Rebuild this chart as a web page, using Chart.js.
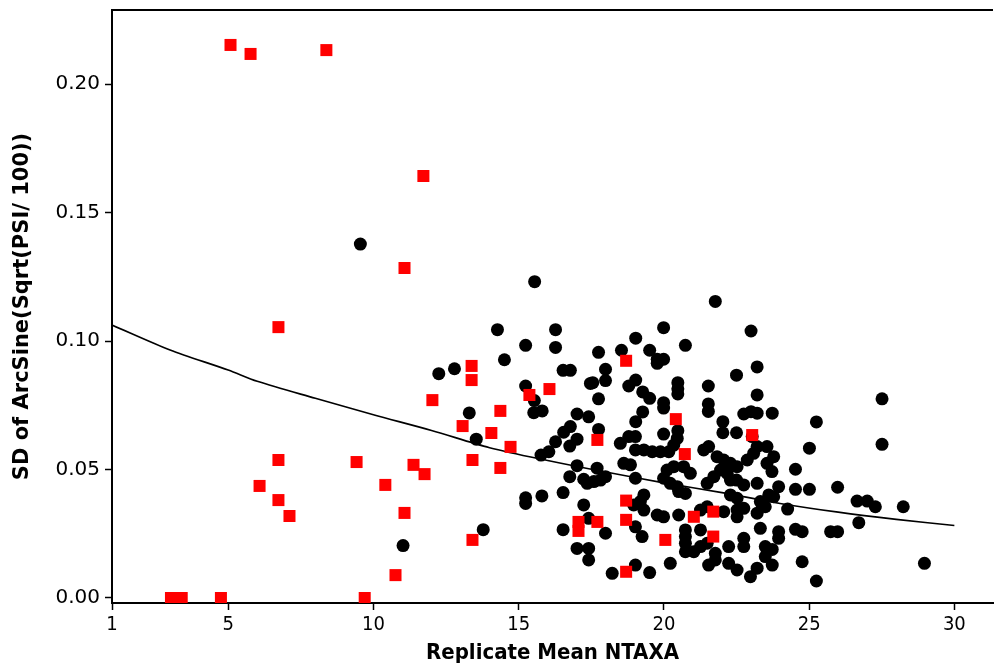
<!DOCTYPE html>
<html>
<head>
<meta charset="utf-8">
<script src="https://cdn.jsdelivr.net/npm/chart.js@4.4.1/dist/chart.umd.min.js"></script>
<style>
  html, body { margin: 0; padding: 0; background: #fff; overflow: hidden; }
  #wrap { width: 995px; height: 666px; }
  canvas { display: block; }
</style>
</head>
<body>
<div id="wrap"><canvas id="chart" width="995" height="666"></canvas></div>
<script>
// axis ticks
const xTicks = [1, 5, 10, 15, 20, 25, 30];
const yTicks = [0, 0.05, 0.10, 0.15, 0.20];

// black circles: [replicate mean NTAXA, SD]
const blackPts = [
    [9.55,0.1377],[11.02,0.0204],[15.55,0.1231],[14.27,0.1044],[16.27,0.1044],[15.24,0.0983],[16.27,0.0975],
    [14.51,0.0927],[12.25,0.0873],[12.79,0.0892],[16.53,0.0886],[16.78,0.0886],[17.47,0.0835],[15.24,0.0825],
    [15.54,0.0768],[15.52,0.0721],[15.81,0.0728],[13.30,0.0720],[17.01,0.0716],[17.41,0.0705],[16.78,0.0667],
    [16.55,0.0645],[13.54,0.0618],[17.01,0.0618],[16.27,0.0608],[16.76,0.0591],[16.04,0.0569],[15.77,0.0556],
    [17.01,0.0515],[16.76,0.0472],[17.24,0.0462],[17.36,0.0446],[16.53,0.0410],[15.80,0.0397],[15.24,0.0390],
    [15.24,0.0368],[17.24,0.0362],[17.41,0.0310],[13.78,0.0266],[16.53,0.0266],[17.01,0.0193],[17.41,0.0193],
    [17.41,0.0148],[21.77,0.1154],[19.99,0.1052],[23.00,0.1039],[19.03,0.1011],[20.74,0.0983],[17.75,0.0956],
    [18.54,0.0964],[19.51,0.0964],[19.77,0.0929],[19.99,0.0929],[19.77,0.0913],[23.21,0.0899],[17.99,0.0890],
    [17.99,0.0846],[22.50,0.0867],[17.55,0.0838],[19.03,0.0848],[18.79,0.0825],[20.48,0.0838],[20.48,0.0814],
    [20.48,0.0794],[21.53,0.0825],[19.27,0.0802],[19.51,0.0777],[17.75,0.0775],[23.21,0.0790],[19.99,0.0760],
    [19.99,0.0739],[21.53,0.0755],[21.53,0.0726],[19.27,0.0724],[19.03,0.0686],[22.75,0.0716],[23.00,0.0725],
    [23.21,0.0719],[22.03,0.0686],[17.75,0.0656],[19.99,0.0638],[20.48,0.0651],[22.03,0.0643],[22.50,0.0643],
    [23.73,0.0719],[25.25,0.0685],[27.51,0.0775],[18.50,0.0602],[18.79,0.0628],[19.02,0.0628],[19.02,0.0576],
    [19.31,0.0576],[19.60,0.0569],[19.88,0.0569],[20.17,0.0569],[20.34,0.0595],[20.46,0.0621],[21.37,0.0576],
    [21.54,0.0589],[21.83,0.0550],[22.06,0.0537],[22.29,0.0524],[22.52,0.0511],[22.87,0.0537],[23.09,0.0563],
    [23.21,0.0589],[23.04,0.0628],[18.62,0.0524],[18.85,0.0518],[17.70,0.0505],[17.99,0.0472],[17.82,0.0459],
    [17.59,0.0453],[19.02,0.0466],[19.99,0.0466],[20.22,0.0446],[20.46,0.0433],[20.51,0.0414],[20.74,0.0407],
    [20.11,0.0498],[20.34,0.0511],[20.68,0.0511],[20.91,0.0485],[21.49,0.0446],[21.72,0.0472],[21.95,0.0498],
    [22.18,0.0485],[22.29,0.0459],[23.21,0.0446],[22.29,0.0401],[22.52,0.0388],[19.31,0.0401],[19.19,0.0375],
    [18.96,0.0362],[19.31,0.0342],[19.77,0.0323],[19.99,0.0316],[20.51,0.0323],[21.26,0.0342],[21.49,0.0355],
    [22.06,0.0336],[22.52,0.0342],[22.75,0.0349],[22.52,0.0316],[23.21,0.0330],[19.02,0.0277],[17.99,0.0252],
    [19.25,0.0239],[20.74,0.0265],[20.74,0.0239],[20.74,0.0213],[20.74,0.0180],[21.03,0.0180],[21.26,0.0200],
    [21.49,0.0213],[21.26,0.0265],[21.77,0.0174],[21.77,0.0148],[21.54,0.0128],[22.23,0.0200],[22.75,0.0232],
    [22.75,0.0200],[22.23,0.0135],[22.52,0.0109],[23.21,0.0116],[22.98,0.0083],[18.22,0.0096],[19.02,0.0128],
    [19.51,0.0099],[20.22,0.0135],[23.55,0.0589],[23.78,0.0550],[23.55,0.0524],[23.72,0.0492],[23.95,0.0433],
    [23.61,0.0401],[23.78,0.0394],[23.32,0.0375],[23.49,0.0355],[23.32,0.0271],[23.95,0.0258],[23.95,0.0232],
    [23.49,0.0200],[23.73,0.0189],[23.49,0.0161],[23.73,0.0128],[25.01,0.0583],[27.51,0.0598],[24.53,0.0501],
    [24.53,0.0423],[25.01,0.0423],[25.98,0.0431],[24.26,0.0346],[26.65,0.0377],[27.00,0.0377],[27.28,0.0355],
    [28.24,0.0355],[24.53,0.0267],[24.76,0.0258],[25.74,0.0258],[25.98,0.0258],[26.71,0.0293],[24.76,0.0141],
    [25.25,0.0066],[28.97,0.0135],[22.75,0.0440],[22.50,0.0459]
];

// red squares
const redPts = [
    [5.08,0.2152],[5.77,0.2117],[8.38,0.2132],[11.72,0.1642],[11.07,0.1284],[6.73,0.1054],[12.03,0.0770],
    [13.38,0.0903],[13.38,0.0848],[13.07,0.0669],[14.06,0.0642],[14.37,0.0728],[15.37,0.0790],[16.06,0.0813],
    [14.72,0.0588],[13.41,0.0537],[14.37,0.0506],[9.42,0.0529],[6.73,0.0537],[6.08,0.0436],[6.73,0.0381],
    [7.11,0.0319],[10.41,0.0440],[11.38,0.0518],[11.76,0.0482],[11.07,0.0331],[13.41,0.0226],[10.76,0.0089],
    [3.03,0.0],[3.40,0.0],[4.75,0.0],[9.70,0.0],[17.06,0.0296],[17.06,0.0261],[17.71,0.0615],[17.71,0.0296],
    [18.70,0.0923],[18.70,0.0379],[18.70,0.0304],[18.70,0.0102],[20.05,0.0226],[20.41,0.0696],[20.72,0.0560],
    [21.03,0.0316],[21.70,0.0239],[21.70,0.0336],[23.04,0.0634]
];

// fitted curve
const fitX = [1, 3, 5, 6, 8, 10, 12, 14, 16, 18, 20, 22, 24, 26, 28, 30];
const fitY = [0.1062, 0.0965, 0.0887, 0.0843, 0.0777, 0.0713, 0.0652, 0.0585, 0.0535, 0.0490, 0.0448, 0.0410, 0.0368, 0.0334, 0.0306, 0.0282];

const toXY = arr => arr.map(p => ({ x: p[0], y: p[1] }));

// top frame line (no right border in the original)
const topFrame = {
    id: 'topFrame',
    afterDraw(chart) {
        const { ctx, chartArea } = chart;
        ctx.save();
        ctx.strokeStyle = '#000';
        ctx.lineWidth = 2;
        ctx.beginPath();
        ctx.moveTo(chartArea.left - 1, chartArea.top);
        ctx.lineTo(chartArea.right, chartArea.top);
        ctx.stroke();
        ctx.restore();
    }
};

const ctx = document.getElementById('chart').getContext('2d');
new Chart(ctx, {
    type: 'scatter',
    data: {
        datasets: [
            {
                label: 'red',
                data: toXY(redPts),
                pointStyle: 'rect',
                pointRadius: 8.5,
                pointHoverRadius: 8.5,
                backgroundColor: '#ff0000',
                borderWidth: 0,
                order: 0,
            },
            {
                label: 'fit',
                type: 'line',
                data: fitX.map((x, i) => ({ x, y: fitY[i] })),
                borderColor: '#000',
                borderWidth: 1.6,
                pointRadius: 0,
                tension: 0.3,
                fill: false,
                order: 1,
            },
            {
                label: 'black',
                data: toXY(blackPts),
                pointStyle: 'circle',
                pointRadius: 6.5,
                pointHoverRadius: 6.5,
                backgroundColor: '#000',
                borderWidth: 0,
                order: 2,
            },
        ],
    },
    options: {
        responsive: false,
        animation: false,
        events: [],
        layout: { autoPadding: false, padding: { top: 10, right: 2, bottom: 0, left: 0 } },
        plugins: { legend: { display: false }, tooltip: { enabled: false } },
        scales: {
            x: {
                type: 'linear',
                min: 1,
                max: 31.33,
                afterBuildTicks: s => { s.ticks = xTicks.map(v => ({ value: v })); },
                afterFit: s => { s.height = 63; s.paddingLeft = 0; s.paddingRight = 0; s.paddingTop = 0; s.paddingBottom = 0; },
                ticks: {
                    color: '#000',
                    padding: 3,
                    autoSkip: false,
                    maxRotation: 0,
                    font: { family: '"DejaVu Sans Condensed", "DejaVu Sans", sans-serif', size: 20 },
                },
                grid: { drawOnChartArea: false, drawTicks: true, tickLength: 7, tickColor: '#000', tickWidth: 1.5 },
                border: { display: true, color: '#000', width: 2 },
                title: {
                    display: true,
                    text: 'Replicate Mean NTAXA',
                    color: '#000',
                    padding: { top: 0, bottom: 0 },
                    font: { family: '"DejaVu Sans Condensed", "DejaVu Sans", sans-serif', size: 22, weight: 'bold' },
                },
            },
            y: {
                type: 'linear',
                min: -0.00195,
                max: 0.2288,
                afterBuildTicks: s => { s.ticks = yTicks.map(v => ({ value: v })); },
                afterFit: s => { s.width = 112; s.paddingTop = 0; s.paddingBottom = 0; s.paddingLeft = 0; s.paddingRight = 0; },
                ticks: {
                    color: '#000',
                    padding: 5,
                    callback: v => v.toFixed(2),
                    font: { family: '"DejaVu Sans", sans-serif', size: 20 },
                },
                grid: { drawOnChartArea: false, drawTicks: true, tickLength: 7, tickColor: '#000', tickWidth: 1.5 },
                border: { display: true, color: '#000', width: 2 },
                title: {
                    display: true,
                    text: 'SD of ArcSine(Sqrt(PSI/ 100))',
                    color: '#000',
                    padding: { top: 10, bottom: 0 },
                    font: { family: '"DejaVu Sans", sans-serif', size: 21, weight: 'bold' },
                },
            },
        },
    },
    plugins: [topFrame],
});
</script>
</body>
</html>
